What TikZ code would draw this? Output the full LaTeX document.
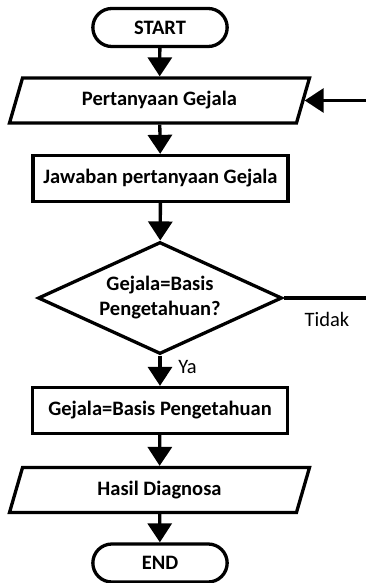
\documentclass[tikz,border=0pt]{standalone}
\usepackage{fontspec}
\setmainfont{Carlito}
\usetikzlibrary{arrows.meta, shapes.geometric, shapes.misc, positioning}

\begin{document}
\begin{tikzpicture}[x=1pt, y=1pt, line width=3.3pt,
	every node/.style={font=\fontsize{20.5}{25}\selectfont\bfseries, align=center},
	term/.style={draw, rounded rectangle, minimum width=141pt, minimum height=38pt},
	io/.style={draw, trapezium, trapezium left angle=62, trapezium right angle=118,
		trapezium stretches body=true, minimum width=300pt, minimum height=45pt},
	proc/.style={draw, rectangle, minimum width=255pt, minimum height=46pt, inner sep=2pt},
	decide/.style={draw, diamond, aspect=2.4, minimum width=244pt, minimum height=112pt, inner sep=0pt},
	lbl/.style={font=\fontsize{20.5}{25}\selectfont},
	arr/.style={-{Triangle[length=19pt,width=24pt]}}]
	\useasboundingbox (0,0) rectangle (365,-583);
	\node[term] (start) at (160,-27.5) {START};
	\node[io] (input) at (159.5,-100.5) {Pertanyaan Gejala};
	\node[proc] (answer) at (160.5,-178.5) {Jawaban pertanyaan Gejala};
	\node[decide] (check) at (160,-298) {Gejala=Basis\\Pengetahuan?};
	\node[proc] (match) at (160,-410.5) {Gejala=Basis Pengetahuan};
	\node[io] (result) at (159.5,-490) {Hasil Diagnosa};
	\node[term] (finish) at (160,-563) {END};
	\coordinate (loop) at (372,-298);
	% labels of the decision
	\node[lbl] (no) at (327,-319) {Tidak};
	\node[lbl] (yes) at (187.5,-366.5) {Ya};
	% arrows
	\draw[arr] (start) -- (input);
	\draw[arr] (input) -- (answer);
	\draw[arr] (answer) -- (check);
	\draw[arr] (check) -- (match);
	\draw[arr] (match) -- (result);
	\draw[arr] (result) -- (finish);
	\draw[arr] (check.east) -- (loop) |- (input.east);
\end{tikzpicture}
\end{document}
